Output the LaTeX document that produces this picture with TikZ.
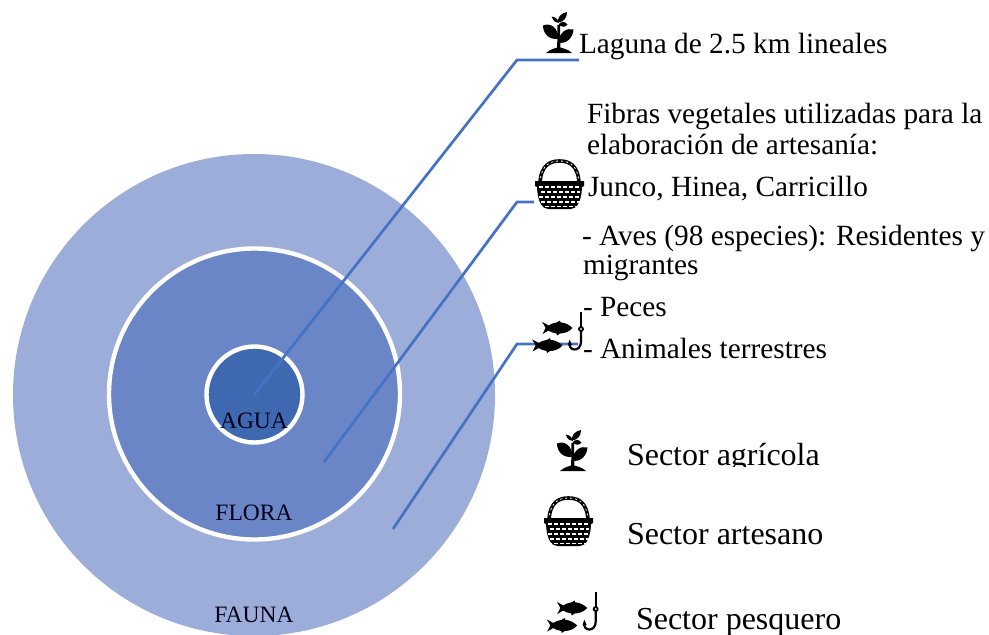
\documentclass[tikz,border=0pt]{standalone}
\usepackage{fontspec}
\setmainfont{Liberation Serif}
\newcommand{\fishshape}{
  \fill[black] (0,0.5) .. controls (3,1.5) and (4.5,3) .. (6.5,4) .. controls (9,2.4) and (12,1.2) .. (15,0.8)
    -- (18,-1) -- (18.5,0.8) .. controls (24,1.2) and (28,4) .. (30.5,6.5)
    .. controls (27,10.5) and (22,12) .. (18,12) -- (15,14) -- (14.5,12)
    .. controls (11,11.4) and (8.5,10.4) .. (6.5,9) .. controls (4.5,10) and (3,11.5) .. (0.5,12.5)
    .. controls (2,9.5) and (3,8) .. (3.5,6.5) .. controls (3,4.5) and (1.5,2.5) .. (0,0.5) -- cycle;
}
\tikzset{
  x=1pt,y=-1pt,
  ring/.style={draw=white,line width=4.4pt},
  leader/.style={draw=leadblue,line width=2.7pt,line join=miter},
  body/.style={font=\fontsize{29.3}{29.3}\selectfont,anchor=base west,inner sep=0pt,outer sep=0pt,text=black},
  sectorlab/.style={font=\fontsize{32}{32}\selectfont,anchor=base west,inner sep=0pt,outer sep=0pt,text=black},
  zone/.style={font=\fontsize{23.5}{23.5}\selectfont,anchor=base,inner sep=0pt,outer sep=0pt,text=black!90!blue},
  pics/plantglyph/.style={code={
    \fill[black] (3,41) .. controls (7,37) and (12,36.5) .. (14.2,35.5) -- (14.4,13) -- (17,13) -- (17.4,35.5)
       .. controls (20,36.5) and (25,37) .. (29,41) -- cycle;
    \fill[black] (0,13.5) .. controls (7,10.5) and (15,15) .. (15.5,26.5) .. controls (8,28.5) and (0,23) .. (0,13.5) -- cycle;
    \fill[black] (30.5,17.5) .. controls (24,15.5) and (16,20) .. (15.5,30.5) .. controls (23,32.5) and (30,26) .. (30.5,17.5) -- cycle;
    \fill[black] (24,0) .. controls (17.5,1.5) and (14.5,5) .. (15,10.5) .. controls (20.5,10) and (24,6) .. (24,0) -- cycle;
    \fill[black] (8.5,4.5) .. controls (10.5,9.5) and (13,11) .. (16,11) .. controls (15,7) and (12.5,5) .. (8.5,4.5) -- cycle;
    \fill[black] (24.5,12.5) .. controls (21,8.5) and (18,9.5) .. (15.5,12.5) .. controls (19,15.5) and (22,15.5) .. (24.5,12.5) -- cycle;
  }},
  pics/basketglyph/.style={code={
    \draw[black,line width=3.6pt] (5,24) .. controls (6,6) and (15,2) .. (24.5,2) .. controls (34,2) and (43,6) .. (44,24);
    \draw[white,line width=0.8pt,dash pattern=on 2pt off 3pt] (5,24) .. controls (6,6) and (15,2) .. (24.5,2) .. controls (34,2) and (43,6) .. (44,24);
    \fill[black] (0,22) -- (49,22) -- (49,27) -- (47,28) .. controls (46.5,42) and (42,50) .. (36,50) -- (13,50) .. controls (7,50) and (2.5,42) .. (2,28) -- (0,27) -- cycle;
    \foreach \yy/\off in {28/0,33/4,38/0,43/4,47.5/0}{
      \draw[white,line width=1.1pt,dash pattern=on 4pt off 2pt,dash phase=\off pt] (4,\yy) -- (45,\yy);
    }
  }},
  pics/fishglyph/.style={code={
    \begin{scope}[shift={(10,9.5)}]\fishshape\end{scope}
    \begin{scope}[shift={(0,27)}]\fishshape\end{scope}
    \draw[black,line width=2.2pt] (49,0) -- (49,15);
    \draw[black,line width=1.8pt] (49,17) circle (2);
    \draw[black,line width=2.2pt] (49,19) -- (49,29) .. controls (49,36) and (45,37.5) .. (42.5,37.5)
       .. controls (39,37.5) and (37,34.5) .. (37.5,30.5);
    \fill[black] (37.5,27.5) -- (40,33) -- (36,33) -- cycle;
  }},
}
\definecolor{outerblue}{HTML}{9DADD9}
\definecolor{midblue}{HTML}{6B86C6}
\definecolor{innerblue}{HTML}{3E68B0}
\definecolor{leadblue}{HTML}{4472C4}
\begin{document}
\begin{tikzpicture}
\path[use as bounding box] (0,0) rectangle (989,635);
\clip (0,0) rectangle (989,635);
\fill[white] (0,0) rectangle (989,635);
% nested circles
\node[circle,fill=outerblue,minimum size=482pt,inner sep=0pt] (fauna) at (254,395) {};
\node[circle,fill=midblue,ring,minimum size=291pt,inner sep=0pt] (flora) at (254.5,394) {};
\node[circle,fill=innerblue,ring,minimum size=96pt,inner sep=0pt] (agua) at (254.5,394.5) {};
% leader ends
\coordinate (a0) at (254,395);
\coordinate (a1) at (517,60);
\coordinate (a2) at (579,60);
\coordinate (b0) at (324,462);
\coordinate (b1) at (517,202);
\coordinate (b2) at (534,202);
\coordinate (c0) at (393,529);
\coordinate (c1) at (517,344);
\coordinate (c2) at (578,344);
\draw[leader] (a0) -- (a1) -- (a2);
\draw[leader] (b0) -- (b1) -- (b2);
\draw[leader] (c0) -- (c1) -- (c2);
% zone labels
\node[zone] (laguaa) at (254,428.5) {AGUA};
\node[zone] (lflora) at (254,520) {FLORA};
\node[zone] (lfauna) at (254,622) {FAUNA};
% icons
\pic at (543,12) {plantglyph};
\pic at (535,159) {basketglyph};
\pic at (532,312) {fishglyph};
\pic at (557,430) {plantglyph};
\pic at (544,496) {basketglyph};
\pic at (546.7,592) {fishglyph};
% texts
\node[body] (t1) at (579,53) {Laguna de 2.5 km lineales};
\node[body] (t2) at (587,123) {Fibras vegetales utilizadas para la};
\node[body] (t3) at (587,154) {elaboración de artesanía:};
\node[body] (t4) at (588,196) {Junco, Hinea, Carricillo};
\node[body] (t5) at (582,245) {- Aves (98 especies): Residentes y};
\node[body] (t6) at (583,274) {migrantes};
\node[body] (t7) at (583,316) {- Peces};
\node[body] (t8) at (583,358) {- Animales terrestres};
\begin{scope}
\clip (620,425) rectangle (860,466.5);
\node[sectorlab] (t9) at (627,465) {Sector agrícola};
\end{scope}
\node[sectorlab] (t10) at (627,544) {Sector artesano};
\node[sectorlab] (t11) at (636,629) {Sector pesquero};
\end{tikzpicture}
\end{document}
